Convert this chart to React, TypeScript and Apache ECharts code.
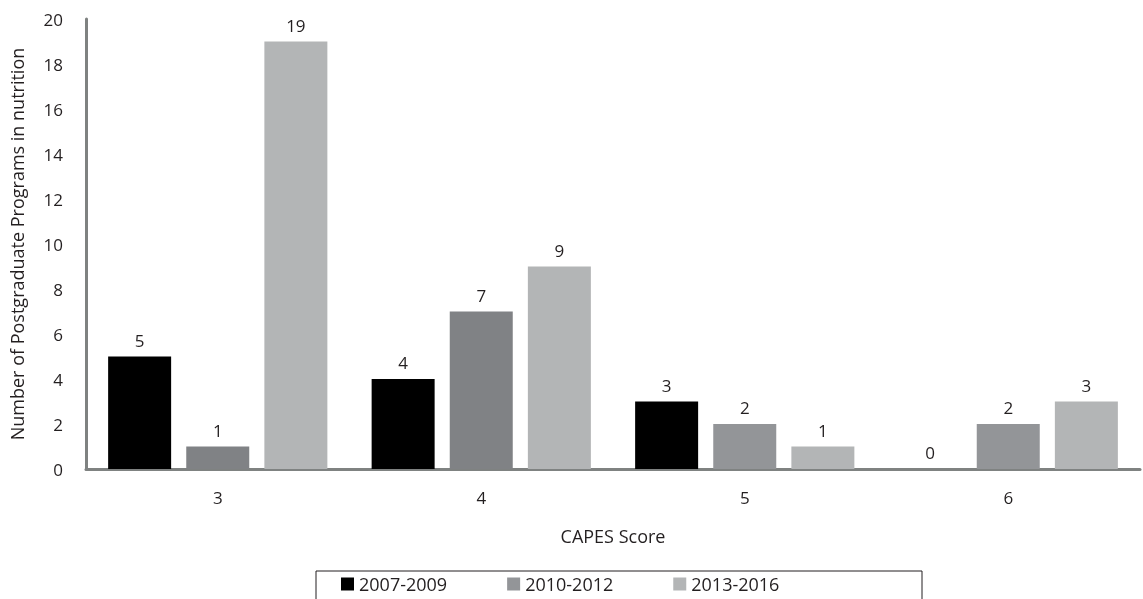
import React, { useEffect, useRef } from "react";
import * as echarts from "echarts";

const categories = ["3", "4", "5", "6"];
const seriesNames = ["2007-2009", "2010-2012", "2013-2016"];
const s2007 = [5, 4, 3, 0];
const s2010 = [1, 7, 2, 2];
const s2013 = [19, 9, 1, 3];
const yTicks = [0, 2, 4, 6, 8, 10, 12, 14, 16, 18, 20];

const FONT = "'Open Sans', 'Noto Sans', sans-serif";
const TXT = "#231f20";

export default function App() {
  const ref = useRef<HTMLDivElement>(null);
  useEffect(() => {
    if (!ref.current) return;
    const chart = echarts.init(ref.current, undefined, { renderer: "svg" });
    const label = {
      show: true,
      position: "top",
      distance: 8,
      color: TXT,
      fontFamily: FONT,
      fontSize: 17,
    };
    chart.setOption({
      animation: false,
      textStyle: { fontFamily: FONT },
      grid: {
        left: 86,
        right: 3,
        top: 19,
        bottom: 130,
        containLabel: false,
        outerBoundsMode: "none",
      },
      xAxis: {
        type: "category",
        data: categories,
        axisLine: { lineStyle: { color: "#7f8281", width: 3 } },
        axisTick: { show: false },
        axisLabel: { color: TXT, fontSize: 17, fontFamily: FONT, margin: 20 },
        name: "CAPES Score",
        nameLocation: "middle",
        nameGap: 58,
        nameTextStyle: { color: TXT, fontSize: 18, fontFamily: FONT },
      },
      yAxis: {
        type: "value",
        min: yTicks[0],
        max: yTicks[yTicks.length - 1],
        interval: 2,
        splitLine: { show: false },
        axisLine: { show: true, lineStyle: { color: "#7f8281", width: 3 } },
        axisTick: { show: false },
        axisLabel: { color: TXT, fontSize: 17, fontFamily: FONT, margin: 23 },
        name: "Number of Postgraduate Programs in nutrition",
        nameLocation: "middle",
        nameGap: 60,
        nameTextStyle: { color: TXT, fontSize: 18, fontFamily: FONT },
      },
      legend: {
        left: 336,
        top: 570,
        itemWidth: 13,
        itemHeight: 13,
        itemGap: 60,
        icon: "rect",
        textStyle: { color: TXT, fontSize: 18, fontFamily: FONT },
        data: seriesNames,
      },
      graphic: [
        {
          type: "rect",
          shape: { x: 316, y: 571, width: 606, height: 60 },
          style: { fill: "none", stroke: "#231f20", lineWidth: 1 },
        },
      ],
      series: [
        {
          name: seriesNames[0],
          type: "bar",
          data: s2007,
          barWidth: 63,
          barGap: "24%",
          itemStyle: { color: "#000000" },
          label,
        },
        {
          name: seriesNames[1],
          type: "bar",
          data: s2010.map((v, i) =>
            i < 2 ? { value: v, itemStyle: { color: "#808285" } } : v
          ),
          barWidth: 63,
          barGap: "24%",
          itemStyle: { color: "#939598" },
          label,
        },
        {
          name: seriesNames[2],
          type: "bar",
          data: s2013,
          barWidth: 63,
          barGap: "24%",
          itemStyle: { color: "#b3b5b6" },
          label,
        },
      ],
    });
    return () => chart.dispose();
  }, []);
  return (
    <div
      ref={ref}
      style={{ position: "fixed", left: 0, top: 0, width: 1143, height: 599 }}
    />
  );
}
